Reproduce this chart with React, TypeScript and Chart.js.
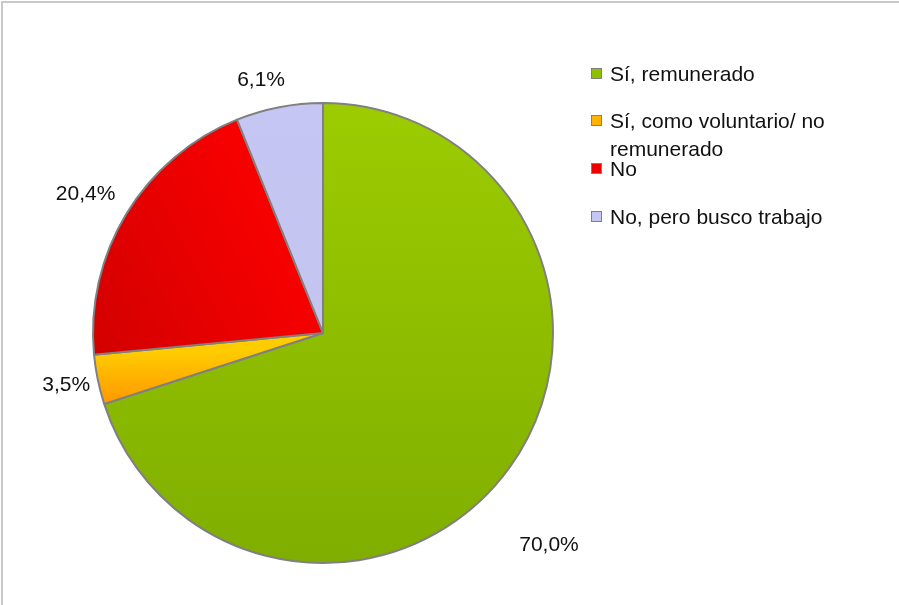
import React, { useEffect, useRef } from "react";
import { Chart, registerables } from "chart.js";

Chart.register(...registerables);

const categories = [
  "Sí, remunerado",
  "Sí, como voluntario/ no remunerado",
  "No",
  "No, pero busco trabajo",
];
const values = [70.0, 3.5, 20.4, 6.1];
// gradient stops [start, end] for each slice
const sliceColorsStart = ["#9CCC00", "#FFCC00", "#D40000", "#C6C6F4"];
const sliceColorsEnd = ["#80AE00", "#FF9900", "#FF0000", "#C4C4F0"];
const legendColors = ["#8FC000", "#FFB300", "#EE0000", "#C6C6F4"];

const FONT = '"Liberation Sans", Arial, sans-serif';

const labelPlugin = {
  id: "outerLabels",
  afterDatasetsDraw(chart: any) {
    const meta = chart.getDatasetMeta(0);
    const ctx = chart.ctx;
    const shifts = [7.2, 0.3, -1, -2.8];
    const factors = [1.348, 1.139, 1.196, 1.13];
    ctx.save();
    ctx.font = `21px ${FONT}`;
    ctx.fillStyle = "#111111";
    ctx.textAlign = "center";
    ctx.textBaseline = "middle";
    meta.data.forEach((arc: any, i: number) => {
      const p = arc.getProps(["x", "y", "startAngle", "endAngle", "outerRadius"], true);
      const mid = (p.startAngle + p.endAngle) / 2 + (shifts[i] * Math.PI) / 180;
      const d = p.outerRadius * factors[i];
      const x = p.x + Math.cos(mid) * d;
      const y = p.y + Math.sin(mid) * d;
      const txt = values[i].toFixed(1).replace(".", ",") + "%";
      ctx.fillText(txt, x, y);
    });
    ctx.restore();
  },
};

export default function App() {
  const ref = useRef<HTMLCanvasElement | null>(null);

  useEffect(() => {
    document.body.style.margin = "0";
    const canvas = ref.current!;
    const chart = new Chart(canvas, {
      type: "pie",
      data: {
        labels: categories,
        datasets: [
          {
            data: values,
            backgroundColor: (c: any) => {
              const ch = c.chart;
              const area = ch.chartArea;
              if (!area) return sliceColorsStart[c.dataIndex];
              const g = ch.ctx;
              const i = c.dataIndex;
              const cx = (area.left + area.right) / 2;
              const cy = (area.top + area.bottom) / 2;
              const r = Math.min(area.right - area.left, area.bottom - area.top) / 2;
              let grad;
              if (i === 0) {
                grad = g.createLinearGradient(0, cy - r, 0, cy + r);
              } else if (i === 1) {
                grad = g.createLinearGradient(0, cy + r * 0.08, 0, cy + r * 0.3);
              } else if (i === 2) {
                grad = g.createLinearGradient(cx - r, cy, cx, cy - r * 0.5);
              } else {
                grad = g.createLinearGradient(0, cy - r, 0, cy);
              }
              grad.addColorStop(0, sliceColorsStart[i]);
              grad.addColorStop(1, sliceColorsEnd[i]);
              return grad;
            },
            borderColor: "#808080",
            borderWidth: 2,
          },
        ],
      },
      options: {
        animation: false,
        responsive: false,
        maintainAspectRatio: false,
        layout: { padding: { left: 92, top: 102, right: 345, bottom: 41 } },
        plugins: {
          legend: { display: false },
          tooltip: { enabled: false },
        },
      },
      plugins: [labelPlugin],
    });
    return () => chart.destroy();
  }, []);

  const legendTops = [60, 107, 155, 203];

  return (
    <div style={{ position: "relative", width: 899, height: 605, background: "#fff", overflow: "hidden" }}>
      <canvas ref={ref} width={899} height={605} style={{ position: "absolute", left: 0, top: 0 }} />
      <div
        style={{
          position: "absolute",
          left: 1,
          top: 1,
          width: 899,
          height: 605,
          borderTop: "2px solid #c8c8c8",
          borderLeft: "2px solid #c8c8c8",
          pointerEvents: "none",
        }}
      />
      {categories.map((c, i) => (
        <div
          key={c}
          style={{
            position: "absolute",
            left: 591,
            top: legendTops[i],
            fontFamily: FONT,
            fontSize: 21,
            lineHeight: "28px",
            color: "#111",
            display: "flex",
            alignItems: "flex-start",
          }}
        >
          <div
            style={{
              width: 9,
              height: 9,
              marginTop: 8,
              background: legendColors[i],
              border: "1.5px solid #808080",
              flex: "none",
            }}
          />
          <div style={{ marginLeft: 8, width: 235 }}>{c}</div>
        </div>
      ))}
    </div>
  );
}
